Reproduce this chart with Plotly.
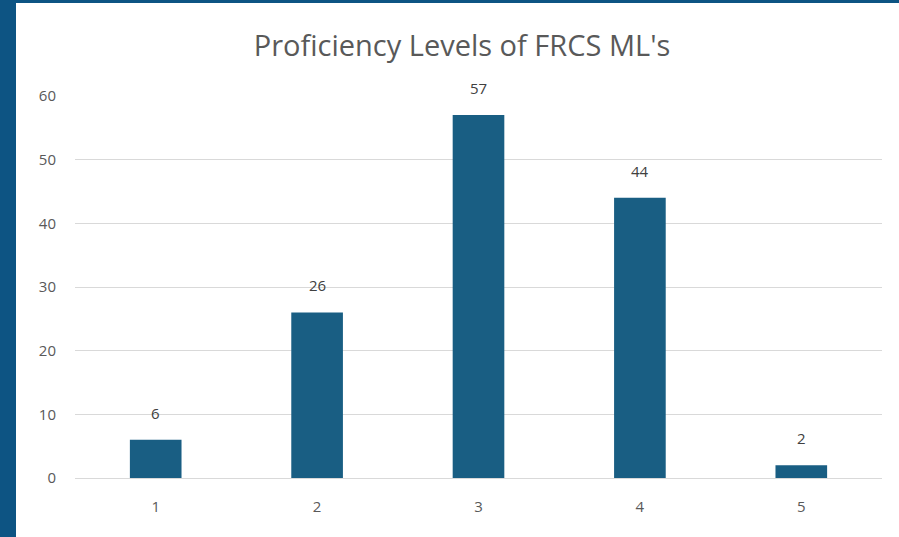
import plotly.graph_objects as go

W, H = 899, 537
ML, MR, MT, MB = 75, 17, 96, 59

levels = ['1', '2', '3', '4', '5']
counts = [6, 26, 57, 44, 2]
y_ticks = [0, 10, 20, 30, 40, 50, 60]

bar_color = '#195e83'
frame_color = '#0d5483'
text_grey = '#595959'

fig = go.Figure()
fig.add_trace(go.Bar(x=levels, y=counts, marker=dict(color=bar_color, line=dict(width=0)),
                     showlegend=False, hoverinfo='x+y'))

# data labels above each bar (x given as category index)
for i, c in enumerate(counts):
    fig.add_annotation(x=i, y=c, text=str(c), showarrow=False, yanchor='bottom', yshift=15,
                       font=dict(family='Open Sans', size=15, color='#404040'))

# dark blue frame along the left and top edges of the image
pw = W - ML - MR
ph = H - MT - MB
def px_x(p):
    return (p - ML) / pw
def px_y(p):
    return (H - MB - p) / ph

fig.add_shape(type='rect', xref='paper', yref='paper', x0=px_x(0), x1=px_x(16),
              y0=px_y(H), y1=px_y(0), fillcolor=frame_color, line=dict(width=0), layer='below')
fig.add_shape(type='rect', xref='paper', yref='paper', x0=px_x(0), x1=px_x(W),
              y0=px_y(3), y1=px_y(0), fillcolor=frame_color, line=dict(width=0), layer='below')

fig.update_layout(
    width=W, height=H,
    margin=dict(l=ML, r=MR, t=MT, b=MB),
    paper_bgcolor='white', plot_bgcolor='white',
    bargap=0.68,
    title=dict(text="Proficiency Levels of FRCS ML's", x=(462 / W), xanchor='center',
               y=1 - 46 / H, yanchor='middle',
               font=dict(family='Open Sans', size=29, color=text_grey)),
    xaxis=dict(type='category', showgrid=False, showline=False, ticks='', ticklabelstandoff=18,
               tickfont=dict(family='Open Sans', size=15, color=text_grey)),
    yaxis=dict(range=[0, 60], tickvals=y_ticks, showgrid=True, gridcolor='#d9d9d9', gridwidth=1,
               zeroline=True, zerolinecolor='#d9d9d9', zerolinewidth=1, showline=False, ticks='',
               ticklabelstandoff=18,
               tickfont=dict(family='Open Sans', size=15, color=text_grey)),
)

fig.write_html("out.html", config={'displayModeBar': False},
               post_script="document.body.style.margin='0';")
